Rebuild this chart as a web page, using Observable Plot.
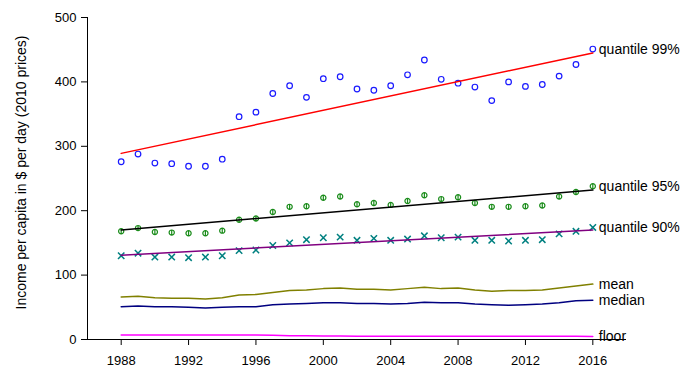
<!DOCTYPE html>
<html>
<head>
<meta charset="utf-8">
<script src="https://cdn.jsdelivr.net/npm/d3@7"></script>
<script src="https://cdn.jsdelivr.net/npm/@observablehq/plot@0.6"></script>
<style>
  html, body { margin: 0; padding: 0; background: #fff; }
  #chart { width: 691px; height: 378px; }
</style>
</head>
<body>
<div id="chart"></div>
<script>
const years = d3.range(1988, 2017);

const q99 = [276, 288, 274, 273, 269, 269, 280, 346, 353, 382, 394, 376, 405, 408, 389, 387, 394, 411, 434, 404, 398, 392, 371, 400, 393, 396, 409, 427, 451];
const q95 = [168, 173, 167, 166, 165, 165, 169, 186, 188, 198, 206, 207, 220, 222, 210, 212, 209, 215, 224, 218, 221, 212, 206, 206, 207, 208, 222, 229, 238];
const q90 = [130, 134, 128, 128, 127, 128, 130, 138, 139, 146, 150, 155, 158, 159, 154, 157, 154, 156, 161, 158, 159, 154, 154, 153, 154, 155, 164, 168, 174];
const meanV = [66, 67, 65, 64, 64, 63, 65, 69, 70, 73, 76, 77, 79, 80, 78, 78, 77, 79, 81, 79, 80, 77, 75, 76, 76, 77, 80, 83, 86];
const medianV = [51, 52, 51, 51, 50, 49, 50, 51, 51, 54, 55, 56, 57, 57, 56, 56, 55, 56, 58, 57, 57, 55, 54, 53, 54, 55, 57, 60, 61];
const floorV = [7, 7, 7, 7, 7, 7, 7, 7, 7, 6.5, 6, 6, 5.5, 5.5, 5, 5, 5, 5, 5, 5, 5, 5, 5, 5, 5, 5, 5, 5, 4.5];

// trend line endpoints (1988, 2016)
const trendYears = [1988, 2016];
const trend99 = [289, 445];
const trend95 = [170, 232];
const trend90 = [131, 170];

const xTicks = [1988, 1992, 1996, 2000, 2004, 2008, 2012, 2016];
const yTicks = [0, 100, 200, 300, 400, 500];

const labels = ["quantile 99%", "quantile 95%", "quantile 90%", "mean", "median", "floor"];

const rows = (vals) => years.map((year, i) => ({year, v: vals[i]}));
const trows = (vals) => trendYears.map((year, i) => ({year, v: vals[i]}));

const phi = {
  draw(ctx, size) {
    const r = Math.sqrt(size / Math.PI);
    ctx.moveTo(r, 0);
    ctx.arc(0, 0, r, 0, 2 * Math.PI);
    ctx.moveTo(0, -r);
    ctx.lineTo(0, r);
  }
};

const endSeries = [q99, q95, q90, meanV, medianV, floorV];
const labelData = labels.map((t, i) => ({year: 2016, v: endSeries[i][endSeries[i].length - 1], t}));

const chart = Plot.plot({
  width: 691,
  height: 378,
  marginLeft: 87,
  marginRight: 65,
  marginTop: 17,
  marginBottom: 39,
  style: {fontFamily: "Liberation Sans, Arial, sans-serif", fontSize: "13px", background: "#fff", overflow: "visible"},
  x: {domain: [1986, 2018]},
  y: {domain: [0, 500]},
  marks: [
    Plot.axisX({ticks: xTicks, tickFormat: d => String(d), tickSize: 6, tickPadding: 10, label: null, fontSize: 13, stroke: "#000"}),
    Plot.axisY({ticks: yTicks, tickSize: 6, tickPadding: 5, label: null, fontSize: 13, stroke: "#000"}),
    Plot.ruleY([0], {stroke: "#000", strokeWidth: 1}),
    Plot.ruleX([1986], {y1: 0, y2: 500, stroke: "#000", strokeWidth: 1}),
    Plot.text(["Income per capita in $ per day (2010 prices)"], {frameAnchor: "left", textAnchor: "middle", dx: -66, dy: -6, rotate: -90, fontSize: 14, fill: "#000"}),

    Plot.line(rows(floorV), {x: "year", y: "v", stroke: "#ff00ff", strokeWidth: 1.5}),
    Plot.line(rows(medianV), {x: "year", y: "v", stroke: "#000080", strokeWidth: 1.5}),
    Plot.line(rows(meanV), {x: "year", y: "v", stroke: "#808000", strokeWidth: 1.5}),

    Plot.dot(rows(q99), {x: "year", y: "v", r: 2.8, stroke: "#1a1aff", fill: "none", strokeWidth: 1.2}),
    Plot.dot(rows(q95), {x: "year", y: "v", r: 2.6, stroke: "#1a8c1a", fill: "none", strokeWidth: 1.2, symbol: phi}),
    Plot.dot(rows(q90), {x: "year", y: "v", r: 3, stroke: "#008080", fill: "none", strokeWidth: 1.5, symbol: "times"}),

    Plot.line(trows(trend99), {x: "year", y: "v", stroke: "#ff0000", strokeWidth: 1.5}),
    Plot.line(trows(trend95), {x: "year", y: "v", stroke: "#000000", strokeWidth: 1.5}),
    Plot.line(trows(trend90), {x: "year", y: "v", stroke: "#800080", strokeWidth: 1.5}),

    Plot.text(labelData, {x: "year", y: "v", text: "t", textAnchor: "start", dx: 6, fontSize: 14, fill: "#000"})
  ]
});

document.getElementById("chart").appendChild(chart);
</script>
</body>
</html>
